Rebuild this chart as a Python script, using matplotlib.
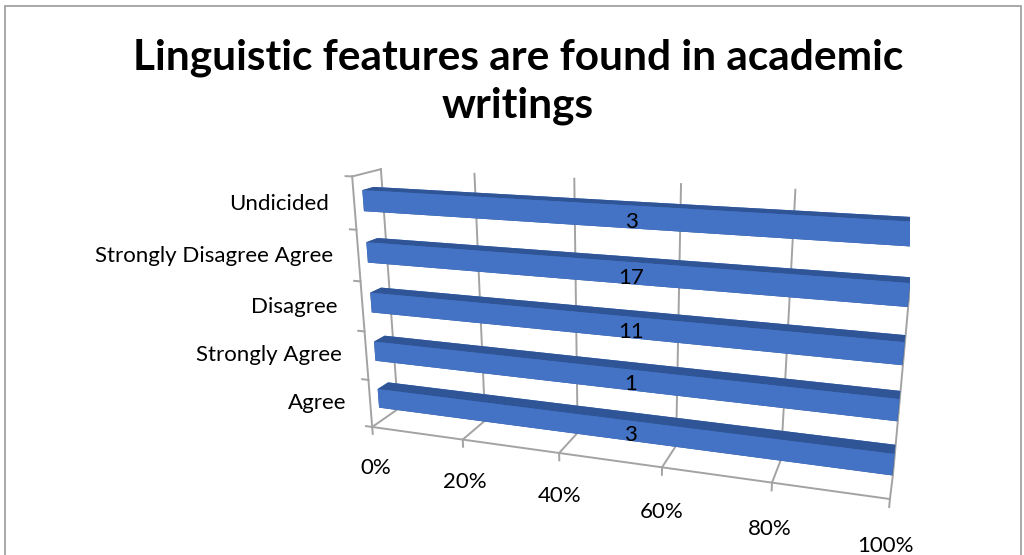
import matplotlib
matplotlib.use('Agg')
import matplotlib.pyplot as plt
import numpy as np
from matplotlib.patches import Rectangle

# data, bottom row first
categories = ['Agree', 'Strongly Agree', 'Disagree',
              'Strongly Disagree Agree', 'Undicided']
counts = [3, 1, 11, 17, 3]
x_ticks = [0, 20, 40, 60, 80, 100]
x_tick_labels = ['0%', '20%', '40%', '60%', '80%', '100%']
title = 'Linguistic features are found in academic\nwritings'

plt.rcParams['font.family'] = ['Lato', 'DejaVu Sans']

FRONT = '#4472C4'
TOP = '#2F5597'
SIDE = '#36619F'
GRID = '#A3A3A3'

counts = np.array(counts, dtype=float)
# single series in a 100% stacked chart: every bar spans its whole row
share = counts / counts * 100
n = len(categories)
rows = np.arange(n)

fig = plt.figure(figsize=(10.24, 5.55), dpi=100)
fig.patch.set_facecolor('white')
fig.add_artist(Rectangle((5 / 1024, -0.05), 1016 / 1024, 1.05 - 6 / 555,
                         transform=fig.transFigure, fill=False,
                         edgecolor='#9a9a9a', lw=1.2))

fig.text(0.506, 0.853, title, ha='center', va='center', fontsize=30.5,
         fontweight='bold', linespacing=1.3)

side = 600
ax = fig.add_axes([310 / 1024, -76 / 555, side / 1024, side / 555],
                  projection='3d')
ax.computed_zorder = False
ax.set_proj_type('persp', focal_length=0.3)
ax.view_init(elev=17, azim=-72)
ax.set_box_aspect((1, 0.1, 0.5), zoom=1.0)
ax.set_xlim(0, 100)
ax.set_ylim(0, 1)
ax.set_zlim(0, n)
ax.set_axis_off()
ax.patch.set_alpha(0)


def flat(x, y, z):
    """Project a 3D data point to the 2D data space of the axes."""
    vec = ax.get_proj() @ np.array([x, y, z, 1.0])
    return vec[0] / vec[3], vec[1] / vec[3]


def label(x, y, z, s, **kw):
    px, py = flat(x, y, z)
    ax.text2D(px, py, s, transform=ax.transData, fontsize=16, zorder=3,
              va='center', **kw)


depth = 1.0
line_kw = dict(color=GRID, lw=1.4, zorder=1)
# back wall and floor gridlines
for t in x_ticks:
    ax.plot([t, t], [depth, depth], [0, n], **line_kw)
    ax.plot([t, t], [0, depth], [0, 0], **line_kw)
    ax.plot([t, t], [0, 0], [0, -0.15], **line_kw)
# floor front edge
ax.plot([0, 100], [0, 0], [0, 0], **line_kw)
# left wall
ax.plot([0, 0], [0, 0], [0, n], **line_kw)
ax.plot([0, 0], [0, depth], [n, n], **line_kw)
for k in range(n + 1):
    ax.plot([0, -1.4], [0, 0], [k, k], **line_kw)

# bars
bar_h = 0.4
bar_y0, bar_dy = 0.3, 0.4
face_colors = [TOP, TOP, FRONT, FRONT, SIDE, SIDE] * n
ax.bar3d(np.zeros(n), np.full(n, bar_y0), rows + 0.5 - bar_h / 2,
         share, np.full(n, bar_dy), np.full(n, bar_h),
         color=face_colors, shade=False, zorder=2)

# data labels
for k, c in enumerate(counts):
    label(53, bar_y0, k + 0.42, f'{int(c)}', ha='center')

# category labels
for k, name in enumerate(categories):
    label(-5.5, 0, k + 0.45, name, ha='right')

# percent labels
for t, lab in zip(x_ticks, x_tick_labels):
    label(t, 0, -0.9, lab, ha='center')

fig.savefig('out.png', dpi=100)
